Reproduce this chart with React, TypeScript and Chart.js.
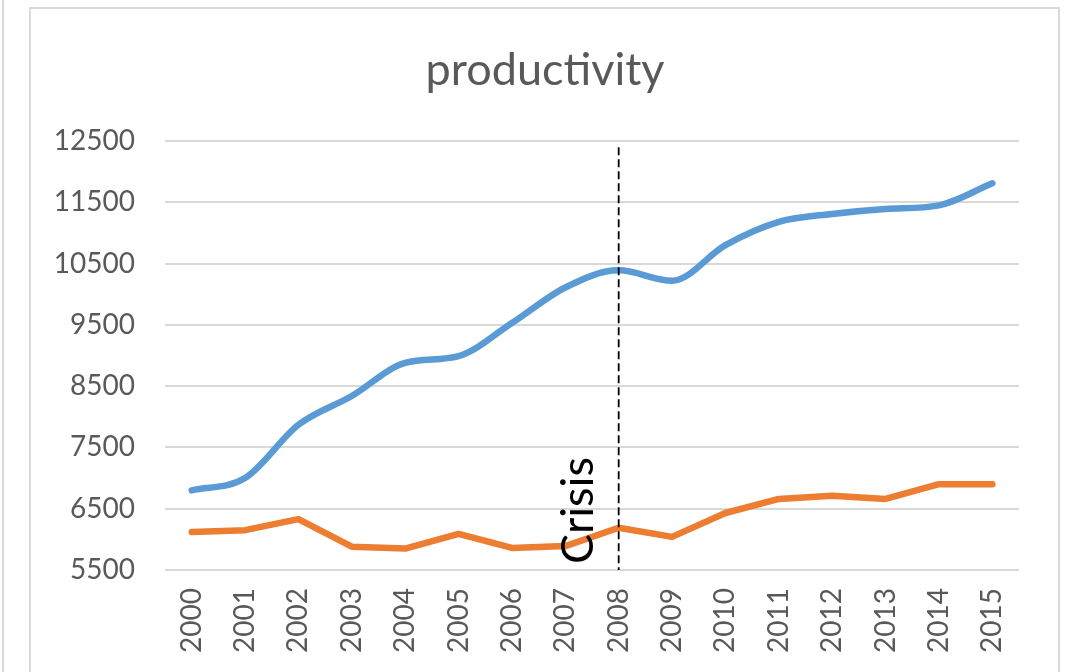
import React, { useEffect, useRef } from "react";
import { Chart, registerables } from "chart.js";

Chart.register(...registerables);

const years = ["2000","2001","2002","2003","2004","2005","2006","2007","2008","2009","2010","2011","2012","2013","2014","2015"];
const blueSeries = [6800, 7000, 7870, 8340, 8880, 8990, 9530, 10110, 10390, 10220, 10800, 11180, 11310, 11390, 11450, 11810];
const orangeSeries = [6120, 6150, 6330, 5880, 5850, 6090, 5860, 5890, 6190, 6040, 6430, 6660, 6710, 6660, 6900, 6900];
const Y_MIN = 5500;
const Y_MAX = 12500;
const Y_STEP = 1000;
const CRISIS_LABEL = "2008";
const CRISIS_TOP_VALUE = 12400;
const CRISIS_TEXT = "Crisis";
const TITLE = "productivity";

const FONT = "Lato, 'Open Sans', sans-serif";

const titlePlugin = {
  id: "frameTitle",
  afterDraw(chart: any) {
    const { ctx } = chart;
    ctx.save();
    ctx.fillStyle = "#595959";
    ctx.font = `45px ${FONT}`;
    ctx.textAlign = "center";
    ctx.textBaseline = "middle";
    ctx.fillText(TITLE, 545, 70);
    ctx.restore();
  },
};

const crisisPlugin = {
  id: "crisis",
  afterDatasetsDraw(chart: any) {
    const { ctx, chartArea, scales } = chart;
    const x = scales.x.getPixelForValue(years.indexOf(CRISIS_LABEL));
    const top = scales.y.getPixelForValue(CRISIS_TOP_VALUE);
    ctx.save();
    ctx.strokeStyle = "#000000";
    ctx.lineWidth = 1.8;
    ctx.setLineDash([8, 4]);
    ctx.beginPath();
    ctx.moveTo(x, top);
    ctx.lineTo(x, chartArea.bottom);
    ctx.stroke();
    ctx.setLineDash([]);
    ctx.translate(x - 26, chartArea.bottom - 6);
    ctx.rotate(-Math.PI / 2);
    ctx.fillStyle = "#000000";
    ctx.font = `45px ${FONT}`;
    ctx.textAlign = "left";
    ctx.textBaseline = "alphabetic";
    ctx.fillText(CRISIS_TEXT, 0, 0);
    ctx.restore();
  },
};

export default function App() {
  const ref = useRef<HTMLCanvasElement | null>(null);
  useEffect(() => {
    if (!ref.current) return;
    const chart = new Chart(ref.current, {
      type: "line",
      data: {
        labels: years,
        datasets: [
          {
            label: "Series1",
            data: blueSeries,
            borderColor: "#5B9BD5",
            backgroundColor: "#5B9BD5",
            borderWidth: 6.5,
            pointRadius: 0,
            tension: 0.4,
            cubicInterpolationMode: "monotone",
            borderCapStyle: "round",
            borderJoinStyle: "round",
          },
          {
            label: "Series2",
            data: orangeSeries,
            borderColor: "#ED7D31",
            backgroundColor: "#ED7D31",
            borderWidth: 6.5,
            pointRadius: 0,
            tension: 0,
            borderCapStyle: "round",
            borderJoinStyle: "round",
          },
        ],
      },
      options: {
        animation: false,
        responsive: false,
        maintainAspectRatio: false,
        layout: { padding: { left: 0, right: 48, top: 141, bottom: 0 } },
        plugins: {
          legend: { display: false },
          tooltip: { enabled: false },
          title: { display: false },
        },
        scales: {
          x: {
            type: "category",
            offset: true,
            grid: { display: false, drawTicks: false },
            border: { display: false },
            ticks: {
              color: "#595959",
              font: { family: FONT, size: 28 },
              minRotation: 90,
              maxRotation: 90,
              padding: 18,
              autoSkip: false,
            },
            afterFit(scale: any) {
              scale.height = 102;
            },
          },
          y: {
            min: Y_MIN,
            max: Y_MAX,
            grid: { color: "#D9D9D9", lineWidth: 2, drawTicks: false },
            border: { display: false },
            ticks: {
              stepSize: Y_STEP,
              color: "#595959",
              font: { family: FONT, size: 28 },
              padding: 30,
              callback: (v: any) => String(v),
            },
            afterFit(scale: any) {
              scale.width = 165;
            },
          },
        },
      },
      plugins: [crisisPlugin, titlePlugin],
    });
    return () => chart.destroy();
  }, []);

  return (
    <div style={{ position: "absolute", left: 0, top: 0, width: 1067, height: 672, overflow: "hidden", background: "#fff" }}>
      <div style={{ position: "absolute", left: 2, top: 0, width: 2, height: 672, background: "#D9D9D9" }} />
      <div
        style={{
          position: "absolute",
          left: 29,
          top: 7,
          width: 1027,
          height: 700,
          borderLeft: "2px solid #D9D9D9",
          borderTop: "2px solid #D9D9D9",
          borderRight: "2px solid #D9D9D9",
        }}
      />
      <canvas ref={ref} width={1067} height={672} style={{ position: "absolute", left: 0, top: 0, width: 1067, height: 672 }} />
    </div>
  );
}
